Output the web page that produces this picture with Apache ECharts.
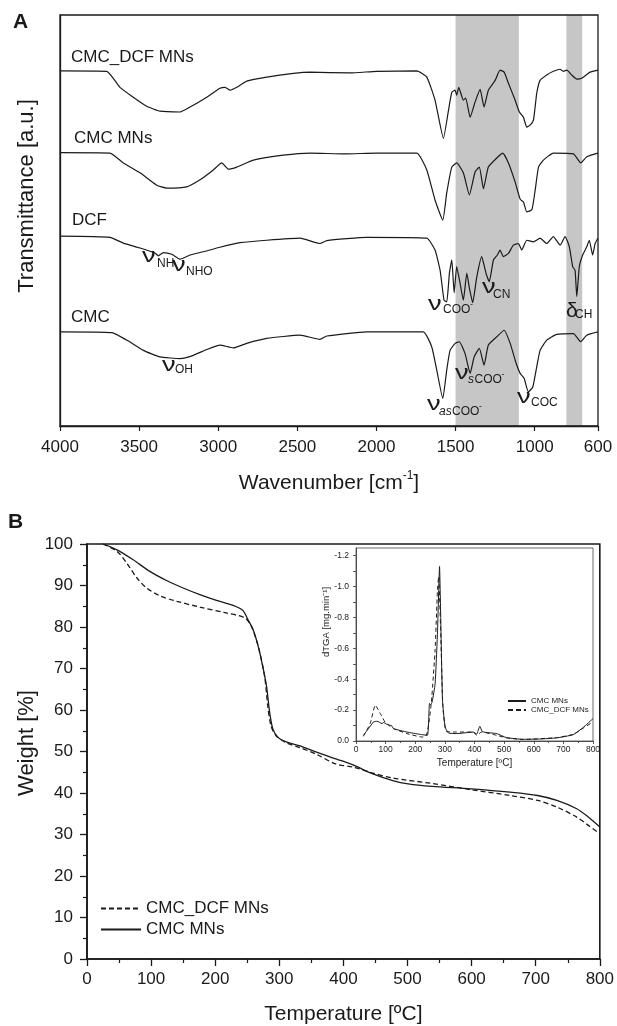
<!DOCTYPE html>
<html>
<head>
<meta charset="utf-8">
<script src="https://cdn.jsdelivr.net/npm/echarts@6/dist/echarts.min.js"></script>
<style>
  html, body { margin: 0; padding: 0; background: #fff; }
  #chart { width: 617px; height: 1026px; }
</style>
</head>
<body>
<div id="chart"></div>
<script>
// ---- panel A : FTIR (wavenumber cm-1 / relative transmittance, a.u.) ----
var ftirNames = ['CMC_DCF MNs', 'CMC MNs', 'DCF', 'CMC'];
var ftirOffsets = [86.4, 66.5, 46.1, 22.9];
var ftirTicks = [4000, 3500, 3000, 2500, 2000, 1500, 1000, 600];
var ftirBands = [[1500, 1100], [800, 700]];

var cmcDcfWn = [4000,3705,3621,3537,3452,3368,3241,3178,3073,2989,2957,2925,2883,2820,2693,2525,2420,2167,2000,1745,1682,1630,1577,1545,1524,1503,1493,1480,1451,1436,1408,1377,1345,1320,1293,1250,1219,1193,1166,1124,1097,1071,1050,1029,1008,987,966,924,882,840,820,797,766,734,703,650,601];
var cmcDcfT = [0,-0.1,-4.0,-6.4,-8.6,-9.8,-10.0,-8.8,-6.4,-4.2,-4.0,-4.7,-4.0,-2.5,-1.5,-0.6,-0.3,-0.5,-0.1,0,-1.5,-7.1,-16.4,-9.6,-5.2,-4.7,-5.9,-4.0,-7.1,-6.6,-11.3,-7.6,-4.5,-8.8,-4.7,-2.3,0.2,-0.3,-3.0,-7.1,-10.0,-11.3,-13.7,-13.2,-12.0,-5.4,-2.3,-1.0,-0.1,0.4,-0.1,0.2,-1.0,-2.0,-1.8,-0.3,0.2];

var cmcMnWn = [4000,3684,3600,3494,3389,3326,3199,3115,3031,2978,2936,2883,2778,2589,2420,2200,2000,1745,1682,1630,1581,1556,1524,1493,1451,1413,1377,1350,1324,1293,1240,1202,1166,1124,1092,1071,1050,1018,997,976,945,882,755,709,671,601];
var cmcMnT = [0,-0.1,-2.5,-4.9,-7.9,-8.6,-8.3,-6.6,-4.2,-2.5,-4.0,-3.5,-1.8,-0.6,-0.1,-0.3,-0.1,-0.1,-4.2,-11.5,-16.4,-9.8,-3.5,-2.5,-4.9,-10.3,-4.7,-3.5,-8.8,-3.5,-1.3,-0.1,-2.5,-7.1,-11.3,-12.0,-14.4,-13.9,-9.1,-3.5,-1.8,-0.1,-0.3,-2.5,-1.0,-0.1];

var dcfWn = [4000,3684,3600,3494,3400,3379,3347,3294,3241,3178,3094,2989,2862,2693,2483,2357,2314,2061,1682,1630,1598,1573,1556,1539,1524,1509,1493,1472,1451,1429,1413,1392,1366,1335,1308,1287,1261,1236,1219,1198,1166,1135,1103,1082,1050,1008,966,924,882,839,808,781,760,745,734,718,697,671,655,634,618,601];
var dcfT = [0.1,-0.2,-1.6,-2.8,-4.0,-4.7,-3.9,-4.3,-5.5,-4.5,-3.7,-2.6,-1.5,-0.9,-0.4,-1.7,-1.0,-0.2,-0.4,-3.3,-8.2,-15.5,-15.9,-8.9,-5.7,-13.7,-7.3,-11.3,-15.5,-8.9,-12.5,-16.1,-9.8,-4.9,-8.9,-11.0,-5.7,-4.5,-3.3,-4.9,-4.1,-2.1,-1.7,-3.3,-0.9,-1.3,-0.4,-1.7,0,-2.1,0,-2.5,-7.3,-8.2,-14.6,-7.3,-4.5,-2.5,-0.9,-4.5,-1.7,-0.4];

var cmcWn = [4000,3673,3579,3473,3368,3241,3157,3073,2989,2904,2820,2693,2483,2357,2314,2061,1704,1651,1619,1581,1556,1535,1503,1476,1440,1408,1383,1350,1320,1293,1240,1193,1155,1117,1092,1067,1040,1012,991,966,924,861,755,709,671,601];
var cmcT = [0,-0.2,-2.0,-4.5,-6.1,-6.5,-5.7,-4.3,-3.2,-3.9,-2.8,-1.6,-0.8,-1.8,-1.0,0,0,-3.6,-9.3,-16.2,-9.3,-4.5,-2.8,-2.4,-5.3,-10.1,-6.1,-4.0,-8.1,-3.2,-1.2,0.4,-2.8,-7.7,-10.1,-11.3,-14.6,-13.4,-9.3,-4.5,-2.0,-0.6,-0.4,-2.4,-0.8,0];

// ---- panel B : TGA (temperature C / weight %) ----
var tgaCmcTemp = [25,47,72,98,124,150,176,202,228,243,251,259,267,274,280,285,290,298,311,331,357,388,397,416,446,477,501,538,599,660,703,733,764,782,800];
var tgaCmcW = [100,98.6,96.2,93.4,91.2,89.4,87.8,86.4,85.2,84.0,81.8,79.4,75.4,70.6,65.8,59.4,55.4,53.4,52.3,51.4,49.9,48.2,47.8,46.7,44.6,43.0,42.2,41.6,41.0,40.2,39.4,38.2,36.2,34.2,31.8];
var tgaDcfTemp = [25,47,62,78,93,114,140,176,217,246,256,267,277,282,287,295,311,331,357,388,416,446,477,538,599,660,703,733,764,782,800];
var tgaDcfW = [100,98.2,95.4,91.8,89.4,87.5,86.2,84.8,83.4,82.2,80.3,75.4,68.2,61.0,56.2,53.8,52.1,51.0,49.4,47.0,46.2,44.8,43.6,42.3,40.8,39.4,38.2,36.6,34.2,32.2,30.2];

// ---- inset : dTGA (mg.min-1) ----
var dtgCmcTemp = [25,42,59,71,88,93,104,115,120,127,172,216,241,248,252,257,267,275,282,286,292,301,312,340,396,407,418,427,475,508,564,620,677,733,766,800];
var dtgCmcV = [-0.037,-0.08,-0.123,-0.128,-0.113,-0.12,-0.108,-0.102,-0.1,-0.08,-0.058,-0.043,-0.037,-0.243,-0.235,-0.253,-0.37,-0.70,-1.13,-0.80,-0.264,-0.09,-0.052,-0.048,-0.058,-0.045,-0.095,-0.06,-0.048,-0.022,-0.011,-0.013,-0.02,-0.041,-0.086,-0.145];
var dtgDcfTemp = [25,48,65,82,99,127,172,222,233,241,248,256,267,275,279,286,293,304,340,396,407,424,475,508,564,677,733,766,800];
var dtgDcfV = [-0.03,-0.113,-0.232,-0.178,-0.12,-0.08,-0.048,-0.026,-0.026,-0.06,-0.14,-0.286,-0.59,-0.98,-1.065,-0.70,-0.23,-0.065,-0.058,-0.058,-0.037,-0.058,-0.037,-0.02,-0.01,-0.022,-0.043,-0.082,-0.124];
var dtgLabels = [-1.2, -1.0, -0.8, -0.6, -0.4, -0.2, 0];
var dtgTicks = [-1.2,-1.1,-1.0,-0.9,-0.8,-0.7,-0.6,-0.5,-0.4,-0.3,-0.2,-0.1,0];

var INK = '#1a1a1a';
var FONT = '"Liberation Sans", Arial, sans-serif';
var BAND = '#c6c6c6';

function zip(xs, ys, off) {
  off = off || 0;
  return xs.map(function(x, i) { return [x, ys[i] + off]; });
}

var ftirSets = [[cmcDcfWn, cmcDcfT], [cmcMnWn, cmcMnT], [dcfWn, dcfT], [cmcWn, cmcT]];

var series = [];
// grey highlight bands, drawn under the spectra
series.push({
  type: 'custom', xAxisIndex: 0, yAxisIndex: 0, z: 1, silent: true,
  data: ftirBands, encode: { x: [0, 1] },
  renderItem: function(params, api) {
    var a = api.coord([api.value(0), 100]);
    var b = api.coord([api.value(1), 0]);
    return {
      type: 'rect',
      shape: { x: Math.min(a[0], b[0]), y: a[1], width: Math.abs(b[0] - a[0]), height: b[1] - a[1] },
      style: { fill: BAND }
    };
  }
});
ftirSets.forEach(function(s, i) {
  series.push({
    name: 'ftir_' + ftirNames[i], type: 'line', xAxisIndex: 0, yAxisIndex: 0,
    data: zip(s[0], s[1], ftirOffsets[i]), showSymbol: false, symbol: 'none',
    smooth: 0.15, lineStyle: { color: INK, width: 1.2 }, z: 2, silent: true
  });
});

series.push({
  name: 'CMC_DCF MNs', type: 'line', xAxisIndex: 1, yAxisIndex: 1,
  data: zip(tgaDcfTemp, tgaDcfW), symbol: 'none', smooth: 0.3,
  itemStyle: { color: INK }, lineStyle: { color: INK, width: 1.3, type: [5, 3] }
});
series.push({
  name: 'CMC MNs', type: 'line', xAxisIndex: 1, yAxisIndex: 1,
  data: zip(tgaCmcTemp, tgaCmcW), symbol: 'none', smooth: 0.3,
  itemStyle: { color: INK }, lineStyle: { color: INK, width: 1.3 }
});
series.push({
  name: 'CMC MNs', type: 'line', xAxisIndex: 2, yAxisIndex: 2,
  data: zip(dtgCmcTemp, dtgCmcV), symbol: 'none', smooth: 0.15,
  lineStyle: { color: INK, width: 1 }
});
series.push({
  name: 'CMC_DCF MNs', type: 'line', xAxisIndex: 2, yAxisIndex: 2,
  data: zip(dtgDcfTemp, dtgDcfV), symbol: 'none', smooth: 0.15,
  lineStyle: { color: INK, width: 1, type: [4, 3] }
});

// text helpers
function txt(x, y, text, size, extra, sx) {
  var st = { text: text, fill: INK, font: size + 'px ' + FONT, align: 'left', verticalAlign: 'middle' };
  for (var k in (extra || {})) st[k] = extra[k];
  return { type: 'text', x: x, y: y, z: 10, scaleX: sx || 1, silent: true, style: st };
}
function vtxt(x, y, text, size) {
  return { type: 'text', x: x, y: y, z: 10, rotation: Math.PI / 2, silent: true,
    style: { text: text, fill: INK, font: size + 'px ' + FONT, align: 'center', verticalAlign: 'middle' } };
}

// band annotations: glyph, x, y, italic prefix, subscript, charge sign, sub x, sub y (pixel layout)
var notes = [
  ['ν', 142, 256, '', 'NH', false, 157, 264],
  ['ν', 172, 265, '', 'NHO', false, 186, 272],
  ['ν', 162, 365, '', 'OH', false, 175, 370],
  ['ν', 428, 304, '', 'COO', true, 443, 310],
  ['ν', 482, 287, '', 'CN', false, 493, 295],
  ['δ', 566, 311, '', 'CH', false, 575, 315],
  ['ν', 455, 373, 's', 'COO', true, 468, 380],
  ['ν', 427, 404, 'as', 'COO', true, 439, 412],
  ['ν', 517, 397, '', 'COC', false, 531, 403]
];

var graphics = [];
graphics.push(txt(13, 22, 'A', 21, { font: 'bold 21px ' + FONT }));
graphics.push(txt(8, 522, 'B', 21, { font: 'bold 21px ' + FONT }));
graphics.push(txt(71, 57, 'CMC_DCF MNs', 17));
graphics.push(txt(74, 138, 'CMC MNs', 17));
graphics.push(txt(72, 220, 'DCF', 17));
graphics.push(txt(71, 317, 'CMC', 17));
graphics.push(vtxt(27, 196, 'Transmittance [a.u.]', 22));
graphics.push(vtxt(27, 743, 'Weight [%]', 22));
graphics.push(vtxt(326, 622, 'dTGA [mg.min⁻¹]', 9.5));

notes.forEach(function(n) {
  graphics.push(txt(n[1], n[2], n[0], 21, null, n[0] === 'ν' ? 1.3 : 1));
  var sx = n[6];
  if (n[3]) {
    graphics.push(txt(sx, n[7], n[3], 12, { font: 'italic 12px ' + FONT }));
    sx += n[3].length * 6.5;
  }
  graphics.push(txt(sx, n[7], n[4], 12));
  if (n[5]) graphics.push(txt(sx + n[4].length * 9, n[7] - 5, '-', 9));
});

var option = {
  animation: false,
  textStyle: { fontFamily: FONT, color: INK },
  grid: [
    { left: 60, top: 15, width: 538, height: 411, show: true, borderColor: INK, borderWidth: 1.3, z: 3, backgroundColor: 'transparent' },
    { left: 87, top: 544, width: 515, height: 417, show: true, borderColor: INK, borderWidth: 1.6, backgroundColor: 'transparent' },
    { left: 356, top: 548, width: 237, height: 193, show: true, borderColor: '#444', borderWidth: 0.8, backgroundColor: 'transparent' }
  ],
  xAxis: [
    {
      gridIndex: 0, type: 'value', min: 600, max: 4000, inverse: true, z: 3,
      axisLine: { lineStyle: { color: INK, width: 1.3 } },
      axisTick: { customValues: ftirTicks, length: 5, lineStyle: { color: INK, width: 1.2 } },
      axisLabel: { customValues: ftirTicks, fontSize: 17, color: INK, margin: 13, fontFamily: FONT,
        formatter: function(v) { return String(v); } },
      splitLine: { show: false },
      name: '{a|Wavenumber [cm}{b|-1}{a|]}', nameLocation: 'middle', nameGap: 44,
      nameTextStyle: { rich: { a: { fontSize: 21, fontFamily: FONT, color: INK, lineHeight: 24, verticalAlign: 'bottom' }, b: { fontSize: 12, fontFamily: FONT, color: INK, verticalAlign: 'top' } } }
    },
    {
      gridIndex: 1, type: 'value', min: 0, max: 800, interval: 100,
      axisLine: { lineStyle: { color: INK, width: 1.6 } },
      axisTick: { length: 7, lineStyle: { color: INK, width: 1.3 } },
      minorTick: { show: true, splitNumber: 2, length: 4, lineStyle: { color: INK, width: 1.2 } },
      axisLabel: { fontSize: 17, color: INK, margin: 12, fontFamily: FONT },
      splitLine: { show: false },
      name: 'Temperature [ºC]', nameLocation: 'middle', nameGap: 45,
      nameTextStyle: { fontSize: 21, fontFamily: FONT, color: INK }
    },
    {
      gridIndex: 2, type: 'value', min: 0, max: 800, interval: 100,
      axisLine: { lineStyle: { color: '#333', width: 0.8 } },
      axisTick: { length: 3, lineStyle: { color: '#333', width: 0.8 } },
      minorTick: { show: true, splitNumber: 2, length: 2, lineStyle: { color: '#333', width: 0.8 } },
      axisLabel: { fontSize: 8.5, color: INK, margin: 4, fontFamily: FONT },
      splitLine: { show: false },
      name: 'Temperature [ºC]', nameLocation: 'middle', nameGap: 17,
      nameTextStyle: { fontSize: 10, fontFamily: FONT, color: INK }
    }
  ],
  yAxis: [
    {
      gridIndex: 0, type: 'value', min: 0, max: 100, z: 3,
      axisLine: { show: true, lineStyle: { color: INK, width: 1.3 } },
      axisTick: { show: false }, axisLabel: { show: false }, splitLine: { show: false }
    },
    {
      gridIndex: 1, type: 'value', min: 0, max: 100, interval: 10,
      axisLine: { show: true, lineStyle: { color: INK, width: 1.6 } },
      axisTick: { length: 7, lineStyle: { color: INK, width: 1.3 } },
      minorTick: { show: true, splitNumber: 2, length: 4, lineStyle: { color: INK, width: 1.2 } },
      axisLabel: { fontSize: 17, color: INK, margin: 14, fontFamily: FONT },
      splitLine: { show: false }
    },
    {
      gridIndex: 2, type: 'value', min: -1.25, max: 0, inverse: true,
      axisLine: { show: true, lineStyle: { color: '#333', width: 0.8 } },
      axisTick: { customValues: dtgTicks, length: 3, lineStyle: { color: '#333', width: 0.8 } },
      axisLabel: { customValues: dtgLabels, fontSize: 8.5, color: INK, margin: 7, fontFamily: FONT,
        formatter: function(v) { return v.toFixed(1); } },
      splitLine: { show: false }
    }
  ],
  legend: [
    {
      data: ['CMC_DCF MNs', 'CMC MNs'], orient: 'vertical', left: 100, top: 900, padding: 0,
      itemWidth: 40, itemHeight: 14, itemGap: 4, selectedMode: false,
      itemStyle: { opacity: 0 },
      textStyle: { fontSize: 17, color: INK, fontFamily: FONT }
    },
    {
      data: ['CMC MNs', 'CMC_DCF MNs'], orient: 'vertical', left: 507, top: 697, padding: 0,
      itemWidth: 18, itemHeight: 8, itemGap: 1, selectedMode: false,
      itemStyle: { opacity: 0 },
      textStyle: { fontSize: 8, color: INK, fontFamily: FONT }
    }
  ],
  graphic: graphics,
  series: series
};

var chart = echarts.init(document.getElementById('chart'), null, { renderer: 'canvas' });
chart.setOption(option);
</script>
</body>
</html>
